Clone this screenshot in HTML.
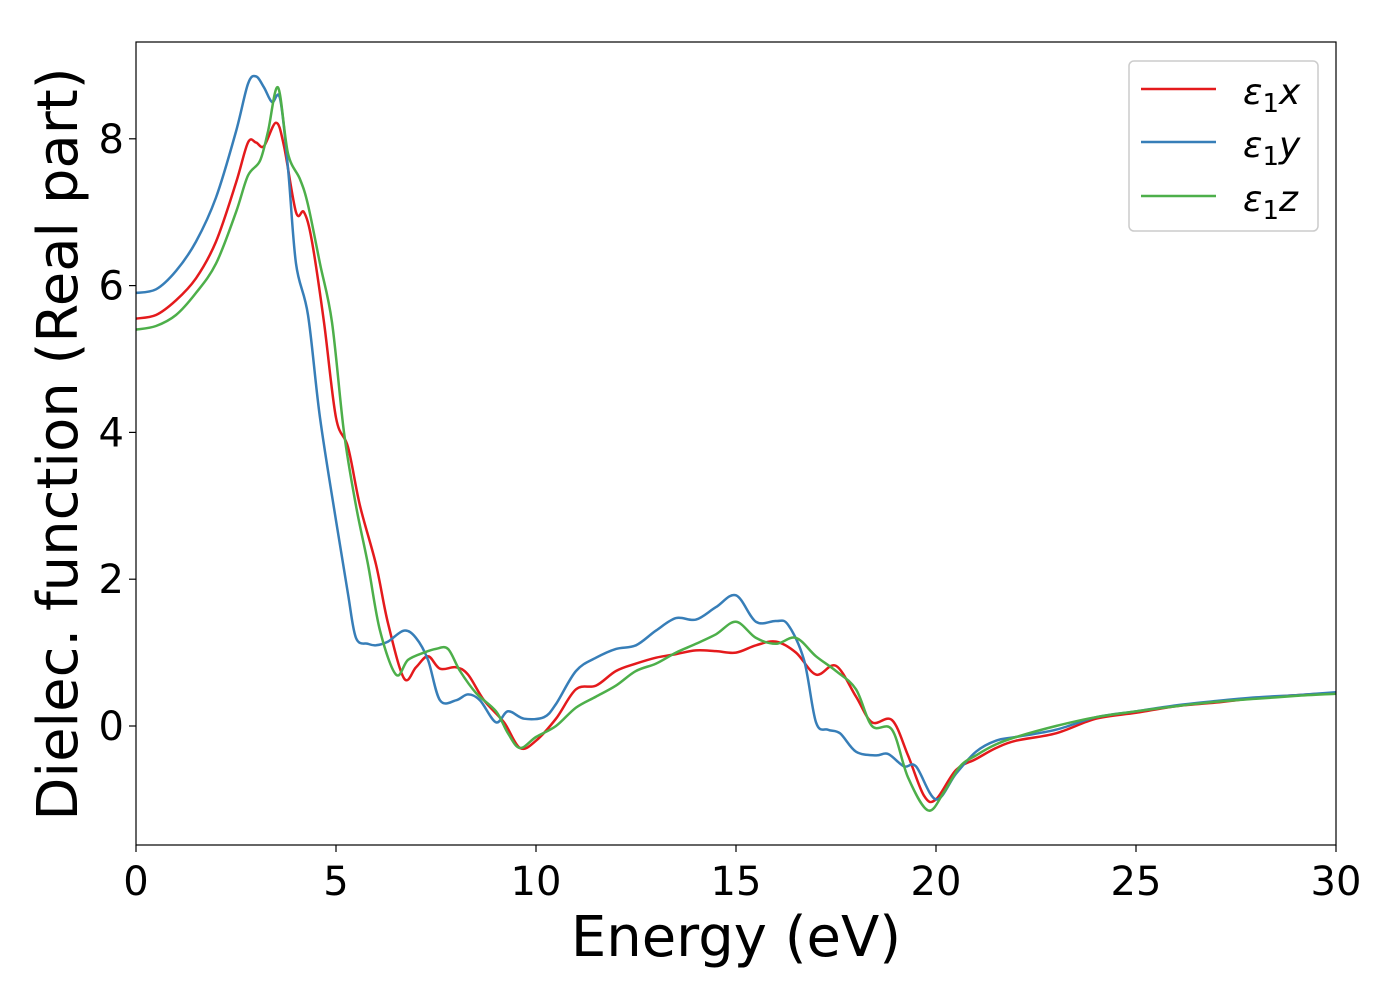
<!DOCTYPE html>
<html><head><meta charset="utf-8"><style>
body{margin:0;background:#fff;}
svg text{font-family:"DejaVu Sans","Liberation Sans",sans-serif;}
</style></head><body>
<svg id="chart" width="1400" height="1000" xmlns="http://www.w3.org/2000/svg">
<rect x="0" y="0" width="1400" height="1000" fill="#fff"/>
<g id="plot"></g>
<g id="axes"></g>
<text x="736" y="956" font-size="56" text-anchor="middle">Energy (eV)</text>
<text transform="translate(77,444) rotate(-90)" font-size="56" text-anchor="middle">Dielec. function (Real part)</text>
<g>
<rect x="1129" y="61" width="189" height="170" rx="5" fill="#fff" stroke="#ccc" stroke-width="1.5"/>
<line x1="1141" y1="89" x2="1216" y2="89" stroke="#e41a1c" stroke-width="2.5"/>
<text x="1243" y="104" font-size="36" font-style="italic">ε<tspan font-style="normal" font-size="26" dy="8">1</tspan><tspan dy="-8">x</tspan></text>
<line x1="1141" y1="142" x2="1216" y2="142" stroke="#377eb8" stroke-width="2.5"/>
<text x="1243" y="157" font-size="36" font-style="italic">ε<tspan font-style="normal" font-size="26" dy="8">1</tspan><tspan dy="-8">y</tspan></text>
<line x1="1141" y1="196" x2="1216" y2="196" stroke="#4daf4a" stroke-width="2.5"/>
<text x="1243" y="211" font-size="36" font-style="italic">ε<tspan font-style="normal" font-size="26" dy="8">1</tspan><tspan dy="-8">z</tspan></text>
</g>
</svg>
<script>
const xTicks=[0,5,10,15,20,25,30];
const yTicks=[0,2,4,6,8];
const eX=[0,0.5,1,1.5,2,2.5,2.8,3.0,3.2,3.5,3.7,4.0,4.2,4.4,4.7,5.0,5.3,5.6,6.0,6.3,6.7,7.0,7.3,7.6,8.0,8.3,8.7,9.2,9.6,10,10.5,11,11.5,12,12.5,13,13.5,14,14.5,15,15.5,16,16.5,17,17.5,18,18.4,18.9,19.3,19.7,20,20.5,21,21.5,22,23,24,25,26,27,28,29,30];
const vX=[5.55,5.6,5.8,6.1,6.6,7.4,7.95,7.95,7.9,8.22,7.9,7.0,7.0,6.6,5.5,4.2,3.8,3.0,2.2,1.4,0.65,0.8,0.95,0.78,0.8,0.7,0.35,0.05,-0.3,-0.2,0.1,0.5,0.55,0.75,0.85,0.93,0.98,1.03,1.02,1.0,1.1,1.15,1.0,0.7,0.82,0.4,0.05,0.08,-0.4,-0.95,-1.0,-0.6,-0.45,-0.3,-0.2,-0.1,0.1,0.18,0.27,0.32,0.38,0.42,0.45];
const eY=[0,0.5,1,1.5,2,2.5,2.8,3.0,3.2,3.4,3.6,3.8,4.0,4.3,4.6,5.0,5.3,5.5,5.8,6.0,6.3,6.7,7.0,7.3,7.6,8.0,8.3,8.6,9.0,9.3,9.7,10.2,10.5,11,11.5,12,12.5,13,13.5,14,14.5,15,15.5,16,16.3,16.7,17,17.3,17.6,18,18.5,18.8,19.2,19.5,20,20.5,21,21.5,22,23,24,25,26,27,28,29,30];
const vY=[5.9,5.95,6.2,6.6,7.2,8.1,8.75,8.85,8.7,8.5,8.55,7.6,6.3,5.6,4.2,2.8,1.8,1.2,1.12,1.1,1.15,1.3,1.2,0.9,0.35,0.35,0.43,0.35,0.05,0.2,0.1,0.12,0.3,0.75,0.93,1.05,1.1,1.3,1.47,1.45,1.62,1.78,1.42,1.43,1.38,0.9,0.05,-0.05,-0.1,-0.35,-0.4,-0.38,-0.55,-0.55,-1.0,-0.65,-0.35,-0.2,-0.15,-0.05,0.12,0.2,0.28,0.34,0.39,0.42,0.46];
const eZ=[0,0.5,1,1.5,2,2.5,2.8,3.1,3.3,3.55,3.8,4.1,4.3,4.6,4.9,5.2,5.5,5.8,6.1,6.5,6.8,7.2,7.5,7.8,8.1,8.5,9.0,9.3,9.6,10,10.5,11,11.5,12,12.5,13,13.5,14,14.5,15,15.5,16,16.5,17,17.5,18,18.4,18.9,19.3,19.8,20.2,20.6,21,21.5,22,23,24,25,26,27,28,29,30];
const vZ=[5.4,5.45,5.6,5.9,6.3,7.0,7.5,7.7,8.1,8.7,7.8,7.45,7.1,6.3,5.5,4.0,3.0,2.2,1.3,0.7,0.9,1.0,1.05,1.05,0.75,0.45,0.2,-0.1,-0.3,-0.15,0.0,0.25,0.4,0.55,0.75,0.85,1.0,1.12,1.25,1.42,1.2,1.12,1.2,0.95,0.75,0.5,0.0,-0.05,-0.7,-1.15,-0.9,-0.55,-0.4,-0.25,-0.15,0.0,0.12,0.2,0.27,0.33,0.37,0.41,0.44];
const L=136,R=1336,T=42,B=845;
const xMin=0,xMax=30,y0px=726,yPerUnit=73.4;
function sx(v){return L+(v-xMin)/(xMax-xMin)*(R-L);}
function sy(v){return y0px-v*yPerUnit;}
const NS="http://www.w3.org/2000/svg";
function mk(t,a){const e=document.createElementNS(NS,t);for(const k in a)e.setAttribute(k,a[k]);return e;}
function smooth(xs,vs){
  const p=xs.map((x,i)=>[sx(x),sy(vs[i])]);
  let d="M"+p[0][0].toFixed(1)+","+p[0][1].toFixed(1);
  for(let i=0;i<p.length-1;i++){
    const p0=p[Math.max(0,i-1)],p1=p[i],p2=p[i+1],p3=p[Math.min(p.length-1,i+2)];
    const c1x=p1[0]+(p2[0]-p0[0])/6,c1y=p1[1]+(p2[1]-p0[1])/6;
    const c2x=p2[0]-(p3[0]-p1[0])/6,c2y=p2[1]-(p3[1]-p1[1])/6;
    d+=" C"+c1x.toFixed(1)+","+c1y.toFixed(1)+" "+c2x.toFixed(1)+","+c2y.toFixed(1)+" "+p2[0].toFixed(1)+","+p2[1].toFixed(1);
  }
  return d;
}
const plot=document.getElementById('plot');
const clip=mk('clipPath',{id:'cp'});clip.appendChild(mk('rect',{x:L,y:T,width:R-L,height:B-T}));
document.getElementById('chart').prepend(clip);
plot.setAttribute('clip-path','url(#cp)');
[[eX,vX,'#e41a1c','series-e1x'],[eY,vY,'#377eb8','series-e1y'],[eZ,vZ,'#4daf4a','series-e1z']].forEach(s=>{
  const path=mk('path',{d:smooth(s[0],s[1]),fill:'none',stroke:s[2],'stroke-width':2.5});
  
  
  plot.appendChild(path);
});
const axes=document.getElementById('axes');
const frame=mk('rect',{x:L,y:T,width:R-L,height:B-T,fill:'none',stroke:'#000','stroke-width':1.2});


axes.appendChild(frame);
xTicks.forEach(t=>{
  const x=sx(t);
  axes.appendChild(mk('line',{x1:x,y1:B,x2:x,y2:B+7,stroke:'#000','stroke-width':1.2}));
  const tx=mk('text',{x:x,y:B+50,'font-size':40,'text-anchor':'middle'});
  
  
  tx.textContent=t;axes.appendChild(tx);
});
yTicks.forEach(t=>{
  const y=sy(t);
  axes.appendChild(mk('line',{x1:L-7,y1:y,x2:L,y2:y,stroke:'#000','stroke-width':1.2}));
  const tx=mk('text',{x:L-12,y:y+14,'font-size':40,'text-anchor':'end'});
  
  
  tx.textContent=t;axes.appendChild(tx);
});
</script>
</body></html>
